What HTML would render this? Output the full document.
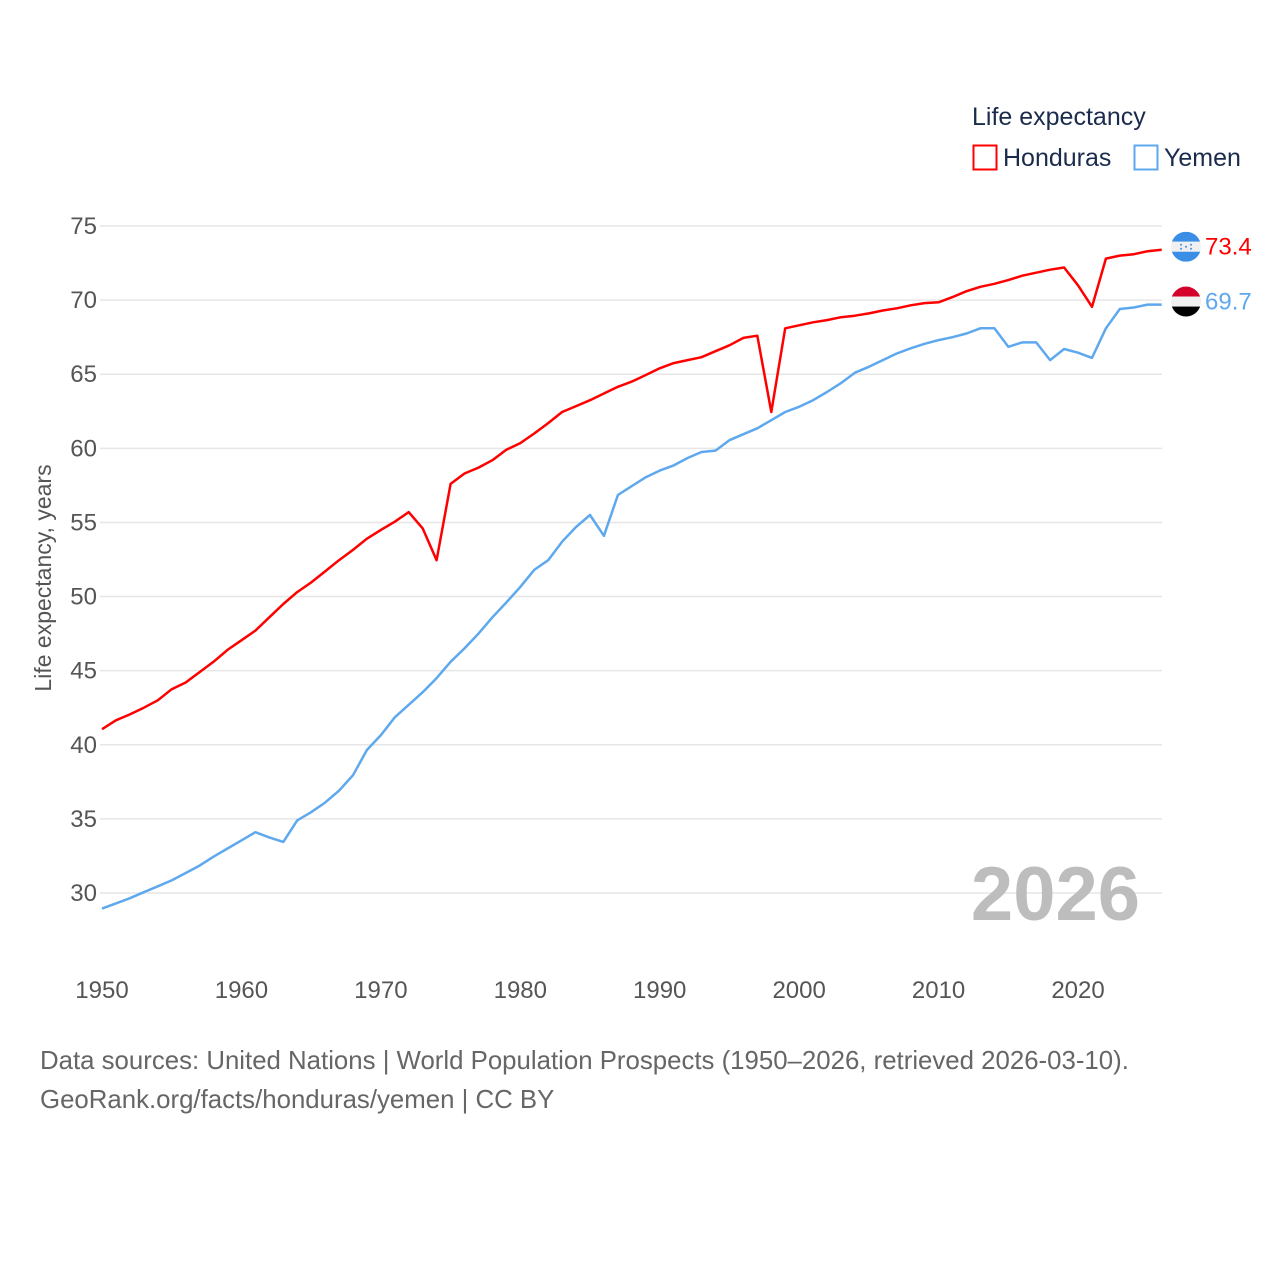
<!DOCTYPE html>
<html><head><meta charset="utf-8">
<style>
body{margin:0;background:#fff;}
svg text{font-family:"Liberation Sans",sans-serif;}
</style></head>
<body>
<svg id="chart" width="1280" height="1280" viewBox="0 0 1280 1280" xmlns="http://www.w3.org/2000/svg">
<rect width="1280" height="1280" fill="#fff"/>
<g id="grid"></g>
<g id="yticks"></g>
<g id="xticks"></g>
<text transform="translate(51,578) rotate(-90)" text-anchor="middle" font-size="23" fill="#555">Life expectancy, years</text>
<text x="1140" y="920" text-anchor="end" font-size="76" font-weight="bold" fill="#bdbdbd">2026</text>
<g id="series"></g>
<g>
<text x="972" y="125" font-size="25" fill="#1a2b4c">Life expectancy</text>
<rect x="973.5" y="145.5" width="23" height="24" fill="none" stroke="#f00" stroke-width="2"/>
<text x="1003" y="166" font-size="25" fill="#1a2b4c">Honduras</text>
<rect x="1134.5" y="145.5" width="23" height="24" fill="none" stroke="#5ea8ee" stroke-width="2"/>
<text x="1164" y="166" font-size="25" fill="#1a2b4c">Yemen</text>
</g>
<text x="40" y="1069" font-size="25.8" fill="#666">Data sources: United Nations | World Population Prospects (1950–2026, retrieved 2026-03-10).</text>
<text x="40" y="1108" font-size="25.8" fill="#666">GeoRank.org/facts/honduras/yemen | CC BY</text>
</svg>
<script>
const years = [];
for (let y = 1950; y <= 2026; y++) years.push(y);
const honduras = [41.05,41.65,42.05,42.5,43.0,43.75,44.2,44.9,45.6,46.4,47.05,47.7,48.6,49.5,50.3,50.95,51.7,52.45,53.15,53.9,54.5,55.05,55.7,54.6,52.45,57.6,58.3,58.7,59.2,59.9,60.35,61.0,61.7,62.45,62.85,63.25,63.7,64.15,64.5,64.95,65.4,65.75,65.95,66.15,66.55,66.95,67.45,67.6,62.45,68.1,68.3,68.5,68.65,68.85,68.95,69.1,69.3,69.45,69.65,69.8,69.85,70.2,70.6,70.9,71.1,71.35,71.65,71.85,72.05,72.2,71.0,69.55,72.8,73.0,73.1,73.3,73.4];
const yemen = [28.95,29.3,29.65,30.05,30.45,30.85,31.35,31.85,32.45,33.0,33.55,34.1,33.75,33.45,34.9,35.45,36.1,36.9,37.95,39.65,40.65,41.85,42.7,43.55,44.5,45.6,46.5,47.5,48.6,49.6,50.65,51.8,52.45,53.7,54.7,55.5,54.1,56.85,57.45,58.05,58.5,58.85,59.35,59.75,59.85,60.55,60.95,61.35,61.9,62.45,62.8,63.25,63.8,64.4,65.1,65.5,65.95,66.4,66.75,67.05,67.3,67.5,67.75,68.1,68.1,66.85,67.15,67.15,65.95,66.7,66.45,66.1,68.1,69.4,69.5,69.7,69.7];
const yTickVals = [30,35,40,45,50,55,60,65,70,75];
const xTickVals = [1950,1960,1970,1980,1990,2000,2010,2020];

const NS = "http://www.w3.org/2000/svg";
const xS = v => 102 + (v - 1950) * 13.943;
const yS = v => 226 + (75 - v) * 14.822;
function mk(tag, attrs, parent, txt) {
  const e = document.createElementNS(NS, tag);
  for (const k in attrs) e.setAttribute(k, attrs[k]);
  if (txt !== undefined) e.textContent = txt;
  parent.appendChild(e);
  return e;
}
const grid = document.getElementById('grid');
const yt = document.getElementById('yticks');
yTickVals.forEach(v => {
  const l = mk('line', {x1: 100, x2: 1162, y1: yS(v), y2: yS(v), stroke: '#e6e6e6', 'stroke-width': 1.5}, grid);
  
  
  const t = mk('text', {x: 97, y: yS(v) + 8, 'text-anchor': 'end', 'font-size': 24, fill: '#555'}, yt, String(v));
  
  
});
const xt = document.getElementById('xticks');
xTickVals.forEach(v => {
  const t = mk('text', {x: xS(v), y: 998, 'text-anchor': 'middle', 'font-size': 24, fill: '#555'}, xt, String(v));
  
  
});
const sg = document.getElementById('series');
function drawLine(vals, color, name) {
  const d = vals.map((v, i) => (i ? 'L' : 'M') + xS(years[i]).toFixed(1) + ',' + yS(v).toFixed(1)).join(' ');
  const p = mk('path', {d: d, fill: 'none', stroke: color, 'stroke-width': 2.5, 'stroke-linejoin': 'round'}, sg);
  
  
}
drawLine(honduras, '#ff0000', 'honduras');
drawLine(yemen, '#5ea8ee', 'yemen');

function endLabel(vals, color, name, flag) {
  const v = vals[vals.length - 1];
  const cy = yS(v) - 3;
  const cx = 1186;
  const g = mk('g', {}, sg);
  
  
  const id = 'clip-' + name;
  const cp = mk('clipPath', {id: id}, g);
  mk('circle', {cx: cx, cy: cy, r: 15}, cp);
  const gg = mk('g', {'clip-path': 'url(#' + id + ')'}, g);
  flag.forEach((c, i) => mk('rect', {x: cx - 15, y: cy - 15 + i * 10, width: 30, height: 10, fill: c}, gg));
  if (name === 'honduras') {
    [[-5,-2],[5,-2],[0,0],[-5,2],[5,2]].forEach(s => mk('circle', {cx: cx + s[0], cy: cy + s[1], r: 1, fill: '#3a8ee6'}, gg));
  }
  const t = mk('text', {x: 1205, y: cy + 8, 'font-size': 24, fill: color}, sg, v.toFixed(1));
  
  
}
endLabel(honduras, '#ff0000', 'honduras', ['#3a8ee6', '#f0f0f0', '#3a8ee6']);
endLabel(yemen, '#5ea8ee', 'yemen', ['#d4002a', '#f0f0f0', '#000000']);
</script>
</body></html>
